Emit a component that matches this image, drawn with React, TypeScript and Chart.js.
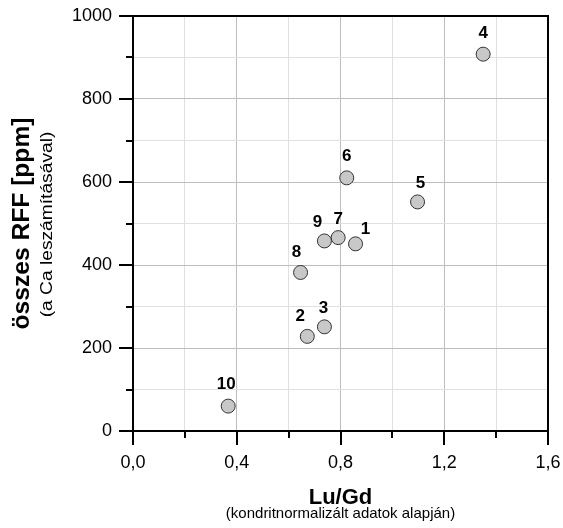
import React, { useEffect, useRef } from "react";
import { Chart, registerables } from "chart.js";

Chart.register(...registerables);

// Sample numbers shown next to each point
const sampleLabels = ["1", "2", "3", "4", "5", "6", "7", "8", "9", "10"];
// Lu/Gd (chondrite-normalised)
const luGd = [0.858, 0.672, 0.738, 1.35, 1.097, 0.824, 0.791, 0.646, 0.738, 0.367];
// Total REE in ppm (without Ca)
const rffPpm = [451, 228, 251, 908, 552, 610, 466, 382, 458, 60];

// Axis ranges and tick steps
const xRange = [0, 1.6];
const yRange = [0, 1000];
const xStep = 0.2;
const yStep = 100;

const FONT = "'Liberation Sans', Arial, Helvetica, sans-serif";

const isMajorX = (v: number) => Math.round(v * 10) % 4 === 0;
const isMajorY = (v: number) => Math.round(v) % 200 === 0;

// Label nudges [dx, baseline rise] so the numbers sit clear of their markers
const labelNudge: [number, number][] = [
  [10, 10], [-7, 15], [-1, 14], [0, 16], [3, 14],
  [0, 17], [0, 14], [-4, 15], [-7, 14], [-2, 17],
];

const pointLabelPlugin = {
  id: "pointLabels",
  afterDatasetsDraw(chart: any) {
    const { ctx } = chart;
    const meta = chart.getDatasetMeta(0);
    ctx.save();
    ctx.font = `bold 17px ${FONT}`;
    ctx.fillStyle = "#000";
    ctx.textAlign = "center";
    ctx.textBaseline = "alphabetic";
    meta.data.forEach((el: any, i: number) => {
      const [dx, rise] = labelNudge[i];
      ctx.fillText(sampleLabels[i], el.x + dx, el.y - rise);
    });
    ctx.restore();
  },
};

function stretchedText(ctx: CanvasRenderingContext2D, text: string, stretch: number) {
  ctx.save();
  ctx.scale(stretch, 1);
  ctx.fillText(text, 0, 0);
  ctx.restore();
}

const framePlugin = {
  id: "frame",
  afterDraw(chart: any) {
    const { ctx, chartArea: a } = chart;
    const xs = chart.scales.x;
    const ys = chart.scales.y;
    ctx.save();
    ctx.strokeStyle = "#000";
    ctx.lineWidth = 2;
    ctx.strokeRect(a.left, a.top, a.right - a.left, a.bottom - a.top);
    ctx.beginPath();
    xs.ticks.forEach((t: any) => {
      const px = Math.round(xs.getPixelForValue(t.value));
      ctx.moveTo(px, a.bottom);
      ctx.lineTo(px, a.bottom + (isMajorX(t.value) ? 14 : 7));
    });
    ys.ticks.forEach((t: any) => {
      const py = Math.round(ys.getPixelForValue(t.value));
      ctx.moveTo(a.left, py);
      ctx.lineTo(a.left - (isMajorY(t.value) ? 14 : 7), py);
    });
    ctx.stroke();

    // axis titles
    ctx.fillStyle = "#000";
    ctx.textAlign = "center";
    ctx.textBaseline = "alphabetic";
    const cx = (a.left + a.right) / 2;
    ctx.font = `bold 22px ${FONT}`;
    ctx.fillText("Lu/Gd", cx, a.bottom + 73);
    ctx.font = `15px ${FONT}`;
    ctx.fillText("(kondritnormalizált adatok alapján)", cx, a.bottom + 87);

    const cy = (a.top + a.bottom) / 2;
    ctx.save();
    ctx.translate(28.5, cy);
    ctx.rotate(-Math.PI / 2);
    ctx.font = `bold 23px ${FONT}`;
    stretchedText(ctx, "összes RFF [ppm]", 1.07);
    ctx.restore();
    ctx.save();
    ctx.translate(52, cy + 1);
    ctx.rotate(-Math.PI / 2);
    ctx.font = `16px ${FONT}`;
    stretchedText(ctx, "(a Ca leszámításával)", 1.2);
    ctx.restore();
    ctx.restore();
  },
};

const noScalePadding = (s: any) => {
  s.paddingLeft = 0;
  s.paddingRight = 0;
  s.paddingTop = 0;
  s.paddingBottom = 0;
};

export default function App() {
  const canvasRef = useRef<HTMLCanvasElement | null>(null);

  useEffect(() => {
    if (!canvasRef.current) return;
    const chart = new Chart(canvasRef.current, {
      type: "scatter",
      data: {
        datasets: [
          {
            data: luGd.map((x, i) => ({ x, y: rffPpm[i] })),
            pointRadius: 7,
            pointHoverRadius: 7,
            pointBackgroundColor: "#c8c8c8",
            pointBorderColor: "#333",
            pointBorderWidth: 1,
          },
        ],
      },
      options: {
        responsive: false,
        animation: false,
        events: [],
        layout: { padding: { left: 0, top: 16, right: 15, bottom: 0 } },
        plugins: { legend: { display: false }, tooltip: { enabled: false } },
        scales: {
          x: {
            type: "linear",
            min: xRange[0],
            max: xRange[1],
            afterFit: (s: any) => {
              s.height = 97;
              noScalePadding(s);
            },
            border: { display: false },
            grid: {
              drawTicks: false,
              lineWidth: 1,
              color: (c: any) => (c.tick && isMajorX(c.tick.value) ? "#bdbdbd" : "#e0e0e0"),
            },
            ticks: {
              stepSize: xStep,
              padding: 21,
              autoSkip: false,
              maxRotation: 0,
              color: "#000",
              font: { family: FONT, size: 18 },
              callback: (v: any) => (isMajorX(Number(v)) ? Number(v).toFixed(1).replace(".", ",") : ""),
            },
          },
          y: {
            type: "linear",
            min: yRange[0],
            max: yRange[1],
            afterFit: (s: any) => {
              s.width = 133;
              noScalePadding(s);
            },
            border: { display: false },
            grid: {
              drawTicks: false,
              lineWidth: 1,
              color: (c: any) => (c.tick && isMajorY(c.tick.value) ? "#bdbdbd" : "#e0e0e0"),
            },
            ticks: {
              stepSize: yStep,
              padding: 21,
              autoSkip: false,
              color: "#000",
              font: { family: FONT, size: 18 },
              callback: (v: any) => (isMajorY(Number(v)) ? String(Math.round(Number(v))) : ""),
            },
          },
        },
      },
      plugins: [pointLabelPlugin, framePlugin],
    });
    return () => chart.destroy();
  }, []);

  return (
    <div style={{ position: "fixed", left: 0, top: 0, width: 563, height: 528, background: "#fff" }}>
      <canvas ref={canvasRef} width={563} height={528} style={{ display: "block" }} />
    </div>
  );
}
